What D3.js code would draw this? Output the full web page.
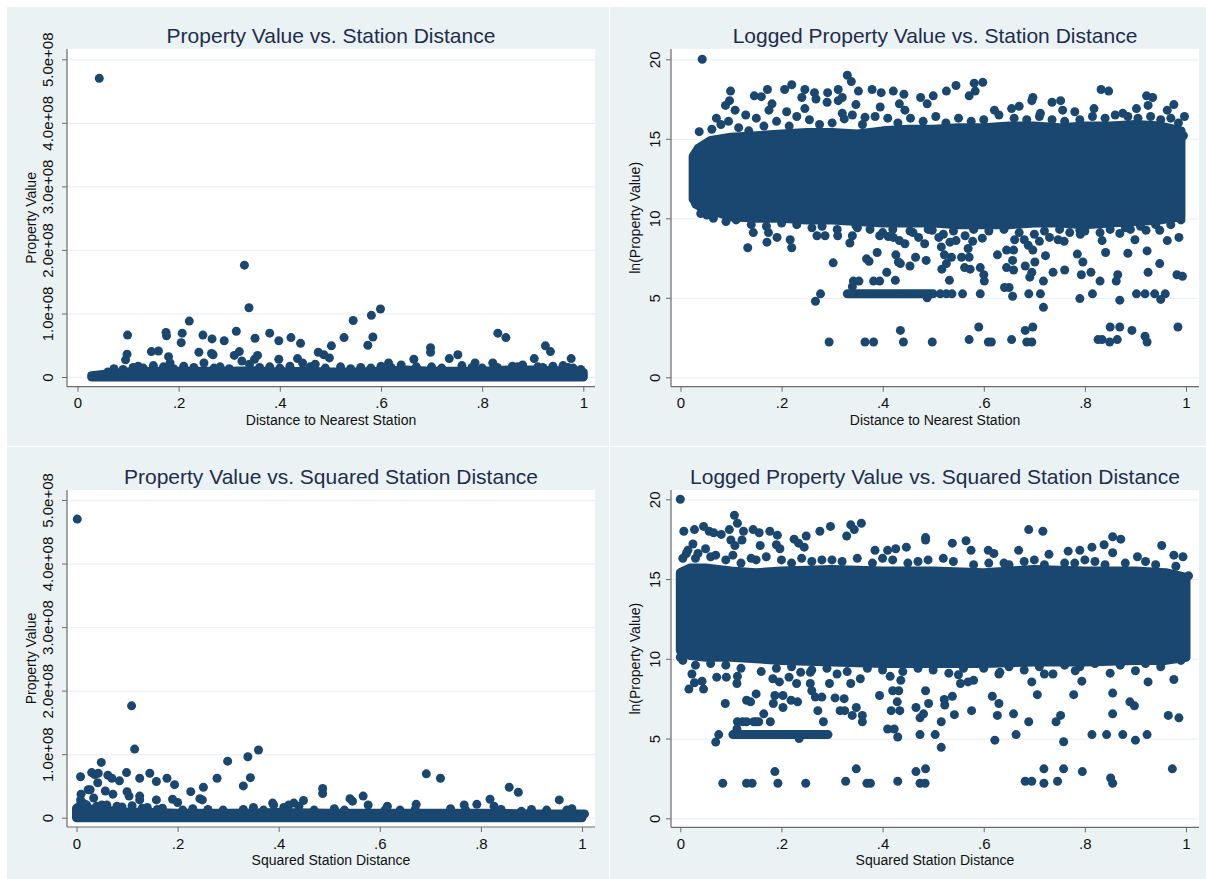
<!DOCTYPE html>
<html>
<head>
<meta charset="utf-8">
<script src="https://cdn.jsdelivr.net/npm/d3@7"></script>
<style>
  body { margin: 0; background: #ffffff; }
  svg { display: block; font-family: "Liberation Sans", Arial, Helvetica, sans-serif; }
</style>
</head>
<body>
<svg id="chart" width="1206" height="879"></svg>
<script>
// ---- data ----
var xTicks = [0, 0.2, 0.4, 0.6, 0.8, 1];
var xTickLabels = ["0", ".2", ".4", ".6", ".8", "1"];
var levelTicks = [0, 1e8, 2e8, 3e8, 4e8, 5e8];
var levelTickLabels = ["0", "1.0e+08", "2.0e+08", "3.0e+08", "4.0e+08", "5.0e+08"];
var logTicks = [0, 5, 10, 15, 20];
var logTickLabels = ["0", "5", "10", "15", "20"];

var titles = ["Property Value vs. Station Distance", "Logged Property Value vs. Station Distance",
              "Property Value vs. Squared Station Distance", "Logged Property Value vs. Squared Station Distance"];
var xTitles = ["Distance to Nearest Station", "Distance to Nearest Station",
               "Squared Station Distance", "Squared Station Distance"];
var yTitles = ["Property Value", "ln(Property Value)", "Property Value", "ln(Property Value)"];

// dense core of each scatter (edges of the solid mass)
var band1X  = [0.028, 0.05, 0.10, 0.15, 0.20, 0.25, 0.30, 0.35, 0.40, 0.45, 0.50, 0.55, 0.60, 0.65, 0.70, 0.75, 0.80, 0.85, 0.90, 0.95, 1.0];
var band1Lo = [0, 0, 0, 0, 0, 0, 0, 0, 0, 0, 0, 0, 0, 0, 0, 0, 0, 0, 0, 0, 0];
var band1Hi = [0.02e8, 0.04e8, 0.08e8, 0.09e8, 0.09e8, 0.09e8, 0.09e8, 0.10e8, 0.08e8, 0.09e8, 0.08e8, 0.08e8, 0.09e8, 0.11e8, 0.09e8, 0.09e8, 0.09e8, 0.11e8, 0.11e8, 0.10e8, 0.07e8];

var band2X  = [0.025, 0.035, 0.06, 0.10, 0.15, 0.20, 0.25, 0.30, 0.35, 0.40, 0.45, 0.50, 0.55, 0.60, 0.65, 0.70, 0.75, 0.80, 0.85, 0.90, 0.95, 0.99];
var band2Lo = [11.2, 10.8, 10.5, 10.1, 10.0, 10.0, 9.9, 9.9, 9.8, 9.7, 9.7, 9.7, 9.6, 9.6, 9.6, 9.7, 9.7, 9.6, 9.7, 9.8, 9.9, 10.1];
var band2Hi = [13.9, 14.4, 14.9, 15.1, 15.2, 15.3, 15.4, 15.4, 15.3, 15.5, 15.6, 15.6, 15.7, 15.7, 15.8, 15.8, 15.7, 15.8, 15.8, 15.9, 15.8, 15.5];

var band3X  = [0.0, 0.02, 0.05, 0.10, 0.15, 0.20, 0.30, 0.40, 0.50, 0.60, 0.70, 0.80, 0.90, 1.0];
var band3Lo = [0, 0, 0, 0, 0, 0, 0, 0, 0, 0, 0, 0, 0, 0];
var band3Hi = [0.15e8, 0.14e8, 0.12e8, 0.09e8, 0.08e8, 0.07e8, 0.07e8, 0.08e8, 0.07e8, 0.07e8, 0.07e8, 0.07e8, 0.06e8, 0.06e8];

var band4X  = [0.0, 0.02, 0.05, 0.10, 0.15, 0.20, 0.30, 0.40, 0.50, 0.60, 0.70, 0.80, 0.90, 0.96, 1.0];
var band4Lo = [10.5, 10.2, 10.1, 10.1, 10.0, 9.9, 9.8, 9.7, 9.7, 9.7, 9.8, 9.8, 9.9, 9.9, 10.1];
var band4Hi = [15.4, 15.7, 15.7, 15.5, 15.4, 15.5, 15.6, 15.5, 15.5, 15.4, 15.6, 15.5, 15.5, 15.4, 15.1];

// runs of tied low values (solid rows of markers)
var row2X = [0.330, 0.500];
var row2V = [5.25, 5.25];
var row4X = [0.104, 0.292];
var row4V = [5.25, 5.25];

// individual markers outside the dense core: [x, value]
var points1 = [
  [0.043,4.70e8],[0.330,1.76e8],[0.339,1.09e8],[0.599,1.07e8],[0.581,0.97e8],[0.545,0.89e8],[0.221,0.88e8],
  [0.099,0.66e8],[0.175,0.70e8],[0.176,0.65e8],[0.207,0.69e8],[0.205,0.54e8],[0.248,0.66e8],[0.266,0.60e8],
  [0.290,0.57e8],[0.314,0.72e8],[0.351,0.61e8],[0.380,0.69e8],[0.398,0.57e8],[0.422,0.62e8],[0.441,0.53e8],
  [0.527,0.62e8],[0.502,0.49e8],[0.574,0.50e8],[0.584,0.63e8],[0.831,0.69e8],[0.847,0.62e8],[0.925,0.49e8],
  [0.935,0.40e8],[0.976,0.29e8],[0.698,0.46e8],[0.698,0.39e8],[0.752,0.35e8],[0.735,0.29e8],[0.903,0.29e8],
  [0.098,0.36e8],[0.095,0.27e8],[0.146,0.40e8],[0.160,0.41e8],[0.180,0.32e8],[0.240,0.39e8],[0.265,0.37e8],
  [0.268,0.35e8],[0.310,0.34e8],[0.320,0.40e8],[0.356,0.34e8],[0.350,0.28e8],[0.398,0.28e8],[0.435,0.29e8],
  [0.476,0.39e8],[0.487,0.35e8],[0.498,0.30e8],[0.615,0.22e8],[0.665,0.28e8],[0.786,0.22e8],[0.821,0.22e8],
  [0.072,0.13e8],[0.183,0.22e8],[0.325,0.25e8],[0.445,0.22e8],[0.960,0.18e8],[0.120,0.17e8],[0.150,0.18e8],
  [0.210,0.17e8],[0.250,0.22e8],[0.282,0.16e8],[0.340,0.20e8],[0.380,0.16e8],[0.420,0.17e8],[0.470,0.20e8],
  [0.520,0.16e8],[0.560,0.15e8],[0.600,0.17e8],[0.640,0.19e8],[0.700,0.16e8],[0.760,0.18e8],[0.800,0.14e8],
  [0.860,0.17e8],[0.880,0.19e8],[0.910,0.16e8],[0.940,0.17e8],[0.980,0.14e8],[0.995,0.12e8]
];
var edge1 = [
  [0.060,0.08e8],[0.090,0.12e8],[0.110,0.15e8],[0.130,0.14e8],[0.170,0.16e8],[0.190,0.13e8],[0.230,0.15e8],
  [0.270,0.14e8],[0.300,0.13e8],[0.360,0.15e8],[0.400,0.14e8],[0.460,0.16e8],[0.490,0.14e8],[0.540,0.13e8],
  [0.580,0.14e8],[0.620,0.15e8],[0.670,0.16e8],[0.720,0.14e8],[0.780,0.15e8],[0.830,0.15e8],[0.870,0.16e8],
  [0.920,0.15e8],[0.970,0.15e8]
];

var points2 = [
  [0.043,20.0],[0.037,15.45],[0.071,16.3],[0.099,18.0],[0.097,17.4],[0.089,17.1],[0.108,16.8],[0.129,16.5],
  [0.146,17.7],[0.160,17.65],[0.172,18.1],[0.175,16.8],[0.181,17.2],[0.206,18.1],[0.210,16.7],[0.220,18.4],
  [0.240,17.6],[0.246,18.1],[0.246,16.9],[0.265,17.9],[0.268,17.5],[0.290,17.3],[0.291,17.9],[0.312,18.1],
  [0.312,17.4],[0.320,17.6],[0.330,19.0],[0.338,18.6],[0.320,16.6],[0.324,16.25],[0.347,17.15],[0.352,18.0],
  [0.365,16.35],[0.379,18.1],[0.397,17.9],[0.395,17.0],[0.421,18.0],[0.442,17.8],[0.433,17.2],[0.444,16.8],
  [0.475,17.6],[0.488,17.2],[0.500,17.7],[0.526,18.0],[0.545,18.35],[0.571,17.7],[0.581,18.5],[0.598,18.55],
  [0.583,18.0],[0.621,16.8],[0.655,16.9],[0.670,17.05],[0.697,17.6],[0.695,17.4],[0.712,16.6],[0.735,17.3],
  [0.752,17.4],[0.756,16.8],[0.780,16.7],[0.818,16.9],[0.832,18.1],[0.847,18.0],[0.875,16.6],[0.902,16.9],
  [0.922,17.7],[0.934,17.6],[0.925,17.1],[0.976,17.15],[0.997,16.4],[0.963,16.8],
  [0.052,10.2],[0.144,9.1],[0.133,8.15],[0.171,8.5],[0.174,9.1],[0.191,8.8],[0.217,8.65],[0.220,8.15],
  [0.270,8.9],[0.286,8.9],[0.311,8.9],[0.335,8.45],[0.340,8.9],[0.347,9.55],[0.394,8.9],[0.411,8.85],
  [0.421,8.8],[0.433,8.6],[0.444,8.4],[0.454,9.2],[0.471,8.8],[0.483,8.4],[0.498,9.25],[0.511,8.8],
  [0.516,8.2],[0.522,7.7],[0.533,8.5],[0.545,8.6],[0.536,7.55],[0.563,8.9],[0.569,8.1],[0.578,8.55],
  [0.597,8.75],[0.661,8.65],[0.645,8.0],[0.659,8.0],[0.680,8.65],[0.688,8.3],[0.697,8.0],[0.710,8.55],
  [0.730,8.8],[0.747,8.65],[0.759,8.55],[0.790,9.25],[0.791,9.0],[0.834,8.6],[0.869,9.05],[0.890,9.3],
  [0.899,8.65],[0.921,9.25],[0.948,9.25],[0.963,8.6],[0.986,8.8],
  [0.302,7.2],[0.368,7.45],[0.373,7.3],[0.389,7.85],[0.408,6.6],[0.425,6.1],[0.426,7.7],[0.431,7.25],
  [0.435,7.15],[0.454,7.0],[0.465,7.55],[0.486,7.35],[0.517,6.8],[0.526,7.15],[0.532,6.1],[0.556,7.55],
  [0.562,6.9],[0.571,7.55],[0.573,6.8],[0.593,6.9],[0.600,6.45],[0.601,6.05],[0.627,7.7],[0.645,6.9],
  [0.659,6.75],[0.657,7.35],[0.641,5.65],[0.650,5.65],[0.657,5.1],[0.682,7.0],[0.691,6.3],[0.695,6.6],
  [0.701,7.25],[0.722,7.65],[0.718,6.05],[0.712,5.25],[0.689,5.25],[0.718,4.4],[0.737,6.6],[0.760,6.75],
  [0.785,7.75],[0.796,7.25],[0.793,6.45],[0.790,4.95],[0.812,6.6],[0.815,5.25],[0.830,6.05],[0.841,7.85],
  [0.862,6.05],[0.865,6.45],[0.869,4.85],[0.885,7.8],[0.902,5.25],[0.923,7.95],[0.925,6.6],[0.919,5.25],
  [0.938,5.25],[0.948,7.15],[0.950,4.9],[0.959,5.25],[0.982,6.45],[0.993,6.35],
  [0.340,5.7],[0.342,6.05],[0.353,6.05],[0.382,6.05],[0.394,6.05],[0.514,5.25],[0.526,5.25],[0.537,5.25],
  [0.488,5.0],[0.267,4.78],[0.277,5.25],[0.558,5.25],[0.593,5.25],
  [0.294,2.22],[0.365,2.22],[0.382,2.22],[0.435,2.95],[0.441,2.22],[0.498,2.22],[0.571,2.37],[0.590,3.16],
  [0.609,2.22],[0.615,2.22],[0.655,2.37],[0.682,2.95],[0.697,3.16],[0.685,2.22],[0.695,2.22],[0.826,2.37],
  [0.834,2.37],[0.849,2.22],[0.850,3.16],[0.864,2.37],[0.869,3.16],[0.893,2.95],[0.919,2.58],[0.923,2.22],
  [0.984,3.16]
];
var edge2 = [
  [0.062,15.6],[0.080,15.9],[0.095,16.1],[0.115,15.7],[0.135,15.5],[0.150,16.3],[0.165,15.8],[0.190,16.1],
  [0.215,15.8],[0.230,16.4],[0.255,16.2],[0.275,15.9],[0.300,16.0],[0.340,16.5],[0.360,15.9],[0.385,16.4],
  [0.410,16.3],[0.430,16.0],[0.455,16.3],[0.480,16.1],[0.505,16.4],[0.525,16.0],[0.550,16.3],[0.575,16.1],
  [0.600,16.2],[0.630,16.5],[0.660,16.3],[0.685,16.2],[0.710,16.4],[0.735,16.2],[0.760,16.1],[0.790,16.2],
  [0.815,16.4],[0.840,16.3],[0.860,16.5],[0.885,16.4],[0.905,16.3],[0.930,16.4],[0.950,16.2],[0.970,16.3],
  [0.985,16.0],[0.995,15.2],
  [0.030,10.9],[0.040,10.3],[0.065,10.0],[0.090,9.8],[0.110,9.9],[0.140,9.6],[0.170,9.5],[0.200,9.7],
  [0.230,9.6],[0.260,9.4],[0.280,9.5],[0.310,9.3],[0.350,9.4],[0.375,9.3],[0.400,9.1],[0.420,9.3],
  [0.460,9.1],[0.490,9.3],[0.520,9.0],[0.540,9.2],[0.580,9.3],[0.610,9.2],[0.640,9.3],[0.670,9.1],
  [0.700,9.0],[0.720,9.2],[0.750,9.3],[0.770,9.1],[0.800,9.2],[0.830,9.1],[0.850,9.3],[0.880,9.4],
  [0.910,9.5],[0.940,9.6],[0.970,9.6],[0.990,9.9]
];

var points3 = [
  [0.0015,4.70e8],[0.109,1.76e8],[0.115,1.08e8],[0.360,1.065e8],[0.339,0.96e8],[0.299,0.89e8],[0.049,0.87e8],
  [0.008,0.645e8],[0.030,0.71e8],[0.036,0.68e8],[0.043,0.70e8],[0.042,0.55e8],[0.062,0.67e8],[0.070,0.62e8],
  [0.085,0.58e8],[0.099,0.71e8],[0.125,0.62e8],[0.145,0.70e8],[0.158,0.57e8],[0.179,0.62e8],[0.194,0.52e8],
  [0.278,0.62e8],[0.344,0.63e8],[0.330,0.50e8],[0.251,0.48e8],[0.487,0.46e8],[0.487,0.38e8],[0.692,0.69e8],
  [0.720,0.62e8],[0.856,0.48e8],[0.874,0.40e8],[0.955,0.28e8],[0.567,0.34e8],[0.541,0.30e8],[0.546,0.26e8],
  [0.449,0.27e8],[0.226,0.41e8],[0.244,0.30e8],[0.249,0.28e8],[0.009,0.37e8],[0.008,0.28e8],[0.023,0.44e8],
  [0.027,0.44e8],[0.034,0.31e8],[0.057,0.42e8],[0.072,0.37e8],[0.100,0.41e8],[0.104,0.34e8],[0.125,0.34e8],
  [0.125,0.28e8],[0.158,0.28e8],[0.190,0.29e8],[0.200,0.24e8],[0.818,0.29e8],[0.672,0.21e8],[0.615,0.18e8],
  [0.577,0.20e8],[0.388,0.23e8],[0.430,0.23e8],[0.767,0.20e8],[0.792,0.21e8],[0.826,0.18e8],[0.015,0.22e8],
  [0.050,0.20e8],[0.080,0.18e8],[0.140,0.16e8],[0.170,0.15e8],[0.230,0.14e8],[0.330,0.13e8],[0.350,0.16e8],
  [0.410,0.16e8],[0.470,0.12e8],[0.510,0.14e8],[0.640,0.12e8],[0.740,0.14e8],[0.900,0.13e8],[0.980,0.14e8],
  [1.005,0.06e8]
];
var edge3 = [
  [0.005,0.18e8],[0.020,0.20e8],[0.040,0.18e8],[0.060,0.20e8],[0.090,0.17e8],[0.110,0.19e8],[0.130,0.15e8],
  [0.160,0.13e8],[0.210,0.12e8],[0.260,0.13e8],[0.290,0.12e8],[0.370,0.12e8],[0.390,0.20e8],[0.420,0.20e8],
  [0.440,0.18e8],[0.530,0.12e8],[0.610,0.12e8],[0.670,0.13e8],[0.770,0.12e8],[0.840,0.13e8],[0.880,0.10e8],
  [0.930,0.12e8],[0.970,0.12e8]
];

var points4 = [
  [0.0,20.0],[0.107,19.0],[0.113,18.5],[0.007,18.0],[0.028,18.1],[0.046,18.3],[0.057,18.0],[0.066,17.9],
  [0.081,17.8],[0.097,18.1],[0.100,17.45],[0.108,17.1],[0.104,16.5],[0.122,17.45],[0.125,18.0],[0.144,18.1],
  [0.156,17.9],[0.158,17.1],[0.177,18.0],[0.192,17.75],[0.190,17.15],[0.197,16.9],[0.225,17.5],[0.234,17.25],
  [0.249,17.7],[0.245,17.0],[0.276,18.0],[0.297,18.3],[0.329,17.7],[0.337,18.4],[0.344,18.1],[0.358,18.5],
  [0.385,16.8],[0.410,16.8],[0.426,16.9],[0.447,17.0],[0.485,17.6],[0.485,17.45],[0.538,17.25],[0.565,17.4],
  [0.575,16.8],[0.609,16.8],[0.620,16.6],[0.669,16.8],[0.689,18.1],[0.717,18.0],[0.729,16.55],[0.767,16.75],
  [0.790,16.8],[0.814,17.0],[0.838,17.15],[0.855,17.65],[0.871,17.5],[0.855,16.65],[0.904,16.4],[0.952,17.1],
  [0.976,16.5],[0.994,16.4],[1.005,15.2],[0.012,16.6],[0.030,16.3],[0.060,16.4],[0.150,16.2],[0.260,16.1],
  [0.300,16.2],[0.400,16.3],[0.470,16.1],[0.520,16.3],[0.640,16.0],[0.700,16.2],[0.760,16.0],[0.820,16.1],
  [0.017,8.1],[0.028,8.5],[0.046,8.1],[0.043,8.6],[0.023,9.05],[0.072,8.85],[0.091,8.85],[0.112,8.45],
  [0.113,8.9],[0.089,7.2],[0.070,4.78],[0.076,5.25],[0.131,7.4],[0.139,7.3],[0.150,7.8],[0.165,6.55],
  [0.178,6.05],[0.184,7.2],[0.187,7.7],[0.203,7.7],[0.203,6.95],[0.219,7.4],[0.232,7.3],[0.183,8.75],
  [0.196,8.55],[0.215,8.85],[0.230,8.45],[0.238,9.15],[0.257,9.15],[0.257,8.45],[0.260,8.0],[0.267,7.6],
  [0.272,6.75],[0.280,7.6],[0.283,6.05],[0.295,8.45],[0.306,7.55],[0.316,6.75],[0.324,7.5],[0.325,6.75],
  [0.337,8.45],[0.340,6.45],[0.348,6.95],[0.360,6.05],[0.360,6.45],[0.356,8.75],[0.394,7.7],[0.417,6.75],
  [0.434,6.75],[0.429,7.3],[0.432,8.0],[0.436,8.65],[0.420,8.0],[0.415,8.9],[0.410,5.6],[0.423,5.6],
  [0.430,5.1],[0.466,6.95],[0.474,6.3],[0.481,6.55],[0.491,7.2],[0.485,8.0],[0.474,5.25],[0.504,5.25],
  [0.516,6.05],[0.516,4.45],[0.522,7.45],[0.523,7.1],[0.538,7.65],[0.542,6.5],[0.576,6.75],[0.554,8.45],
  [0.569,8.55],[0.580,8.65],[0.617,7.65],[0.630,7.2],[0.627,6.45],[0.622,4.9],[0.630,9.05],[0.659,6.55],
  [0.664,5.25],[0.689,6.05],[0.695,8.55],[0.706,7.75],[0.743,6.05],[0.752,6.45],[0.758,4.8],[0.778,7.75],
  [0.794,8.6],[0.814,5.25],[0.843,5.25],[0.855,7.85],[0.855,6.55],[0.875,5.25],[0.889,7.3],[0.898,7.05],
  [0.900,4.9],[0.923,5.25],[0.925,8.55],[0.965,6.45],[0.986,6.3],[0.976,8.7],[0.900,9.25],[0.850,9.1],
  [0.781,9.25],[0.720,9.05],[0.737,9.05],[0.632,9.15],[0.531,9.1],[0.550,9.0],[0.310,9.05],
  [0.113,6.05],[0.123,6.05],[0.131,6.05],[0.145,6.05],[0.150,6.05],[0.155,6.05],[0.112,5.6],[0.235,5.0],
  [0.084,2.2],[0.131,2.2],[0.142,2.2],[0.187,2.93],[0.193,2.2],[0.248,2.2],[0.327,2.32],[0.348,3.1],
  [0.369,2.2],[0.376,2.2],[0.430,2.32],[0.466,2.93],[0.485,3.1],[0.474,2.2],[0.484,2.2],[0.682,2.32],
  [0.695,2.32],[0.719,3.1],[0.719,2.2],[0.746,2.32],[0.758,3.1],[0.795,2.93],[0.851,2.53],[0.855,2.2],
  [0.973,3.1]
];
var edge4 = [
  [0.005,16.3],[0.015,16.8],[0.025,17.2],[0.035,16.6],[0.050,16.9],[0.070,16.5],[0.090,16.2],[0.120,16.0],
  [0.140,16.3],[0.170,16.4],[0.200,16.2],[0.220,16.0],[0.240,16.3],[0.280,16.2],[0.320,16.1],[0.350,16.3],
  [0.380,16.0],[0.420,16.2],[0.450,16.0],[0.490,16.2],[0.540,16.1],[0.580,15.9],[0.610,16.0],[0.650,15.9],
  [0.680,16.1],[0.720,15.9],[0.780,16.0],[0.800,16.2],[0.840,15.9],[0.880,16.0],[0.920,16.1],[0.940,15.9],
  [0.980,15.8],
  [0.000,10.1],[0.005,9.9],[0.030,9.6],[0.060,9.7],[0.090,9.6],[0.120,9.4],[0.160,9.2],[0.190,9.4],
  [0.220,9.5],[0.260,9.3],[0.290,9.4],[0.330,9.2],[0.370,9.4],[0.400,9.3],[0.440,9.2],[0.470,9.4],
  [0.500,9.3],[0.560,9.4],[0.600,9.4],[0.650,9.5],[0.680,9.3],[0.710,9.5],[0.760,9.6],[0.790,9.5],
  [0.820,9.7],[0.870,9.6],[0.920,9.7],[0.950,9.5],[0.990,9.9]
];

// ---- layout ----
var navy = "#1a476f";
var markR = 4.5;
var svg = d3.select("#chart");

var panels = [
  {bg: [7, 7, 602, 439], plot: [67, 49, 595, 386.7], xr: [77.5, 583.3], yr: [377, 59.3],
   ticks: levelTicks, tickLabels: levelTickLabels, yMax: 5e8, labOff: 14,
   bandX: band1X, bandLo: band1Lo, bandHi: band1Hi, pts: points1.concat(edge1), row: null},
  {bg: [610, 7, 596, 439], plot: [671, 49, 1199, 386.7], xr: [680.5, 1186], yr: [377.3, 59.3],
   ticks: logTicks, tickLabels: logTickLabels, yMax: 20, labOff: 11,
   bandX: band2X, bandLo: band2Lo, bandHi: band2Hi, pts: points2.concat(edge2), row: [row2X, row2V]},
  {bg: [7, 447, 602, 432], plot: [67, 490, 595, 827], xr: [76.5, 582], yr: [817.7, 500],
   ticks: levelTicks, tickLabels: levelTickLabels, yMax: 5e8, labOff: 14,
   bandX: band3X, bandLo: band3Lo, bandHi: band3Hi, pts: points3.concat(edge3), row: null},
  {bg: [610, 447, 596, 432], plot: [671, 490, 1199, 827.3], xr: [680.3, 1186], yr: [818.3, 499.3],
   ticks: logTicks, tickLabels: logTickLabels, yMax: 20, labOff: 11,
   bandX: band4X, bandLo: band4Lo, bandHi: band4Hi, pts: points4.concat(edge4), row: [row4X, row4V]}
];

panels.forEach(function(p, i) {
  var g = svg.append("g");
  var left = p.plot[0], top = p.plot[1], right = p.plot[2], bottom = p.plot[3];

  g.append("rect")
    .attr("x", p.bg[0]).attr("y", p.bg[1])
    .attr("width", p.bg[2]).attr("height", p.bg[3])
    .attr("fill", "#eaf2f3");

  g.append("rect")
    .attr("x", left).attr("y", top)
    .attr("width", right - left).attr("height", bottom - top)
    .attr("fill", "#ffffff");

  var x = d3.scaleLinear().domain([0, 1]).range(p.xr);
  var y = d3.scaleLinear().domain([0, p.yMax]).range(p.yr);

  // grid lines
  g.append("g")
    .attr("transform", "translate(" + left + ",0)")
    .call(d3.axisLeft(y).tickValues(p.ticks).tickSize(-(right - left)).tickFormat(""))
    .call(function(s) {
      s.select(".domain").remove();
      s.selectAll("line").attr("stroke", "#eaf2f3").attr("stroke-width", 1.3);
    });

  // dense core
  var band = p.bandX.map(function(d, k) { return [d, p.bandLo[k], p.bandHi[k]]; });
  g.append("path")
    .datum(band)
    .attr("d", d3.area()
      .x(function(d) { return x(d[0]); })
      .y0(function(d) { return y(d[1]); })
      .y1(function(d) { return y(d[2]); }))
    .attr("fill", navy)
    .attr("stroke", navy)
    .attr("stroke-width", markR * 2)
    .attr("stroke-linejoin", "round");

  if (p.row) {
    var rowPts = p.row[0].map(function(d, k) { return [d, p.row[1][k]]; });
    g.append("path")
      .datum(rowPts)
      .attr("d", d3.line().x(function(d) { return x(d[0]); }).y(function(d) { return y(d[1]); }))
      .attr("fill", "none")
      .attr("stroke", navy)
      .attr("stroke-width", markR * 2)
      .attr("stroke-linecap", "round");
  }

  g.selectAll("circle.pt")
    .data(p.pts)
    .enter()
    .append("circle")
    .attr("class", "pt")
    .attr("cx", function(d) { return x(d[0]); })
    .attr("cy", function(d) { return y(d[1]); })
    .attr("r", markR)
    .attr("fill", navy);

  // axis lines
  g.append("line")
    .attr("x1", left).attr("x2", left).attr("y1", top).attr("y2", bottom)
    .attr("stroke", "#6b6b6b").attr("stroke-width", 1.2);
  g.append("line")
    .attr("x1", left).attr("x2", right).attr("y1", bottom).attr("y2", bottom)
    .attr("stroke", "#6b6b6b").attr("stroke-width", 1.2);

  // x axis
  g.append("g")
    .attr("transform", "translate(0," + bottom + ")")
    .call(d3.axisBottom(x).tickValues(xTicks).tickSize(5).tickPadding(6)
      .tickFormat(function(d, k) { return xTickLabels[k]; }))
    .call(function(s) {
      s.select(".domain").remove();
      s.selectAll("line").attr("stroke", "#6b6b6b");
      s.selectAll("text").attr("font-size", 15).attr("fill", "#111")
        .attr("font-family", "Liberation Sans, Arial, sans-serif");
    });

  // y axis, labels turned
  g.append("g")
    .attr("transform", "translate(" + left + ",0)")
    .call(d3.axisLeft(y).tickValues(p.ticks).tickSize(5)
      .tickFormat(function(d, k) { return p.tickLabels[k]; }))
    .call(function(s) {
      s.select(".domain").remove();
      s.selectAll("line").attr("stroke", "#6b6b6b");
      s.selectAll("text")
        .attr("x", null).attr("dy", null).attr("y", null)
        .attr("transform", "translate(" + (-p.labOff) + ",0) rotate(-90)")
        .attr("text-anchor", "middle")
        .attr("font-size", 15).attr("fill", "#111")
        .attr("font-family", "Liberation Sans, Arial, sans-serif");
    });

  // titles
  g.append("text")
    .attr("x", (left + right) / 2).attr("y", top - 6)
    .attr("text-anchor", "middle")
    .attr("font-size", 21)
    .attr("fill", "#1e2d4d")
    .text(titles[i]);

  g.append("text")
    .attr("x", (left + right) / 2).attr("y", bottom + 38)
    .attr("text-anchor", "middle")
    .attr("font-size", 14)
    .attr("fill", "#111")
    .text(xTitles[i]);

  g.append("text")
    .attr("transform", "translate(" + (left - 31) + "," + ((top + bottom) / 2) + ") rotate(-90)")
    .attr("text-anchor", "middle")
    .attr("font-size", 14)
    .attr("fill", "#111")
    .text(yTitles[i]);
});
</script>
</body>
</html>
